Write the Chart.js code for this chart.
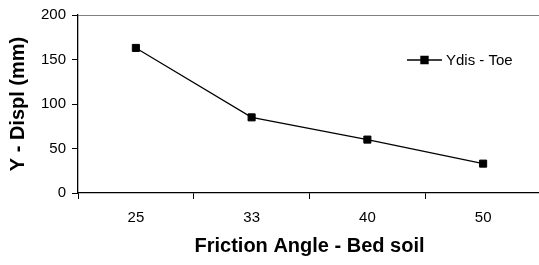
<!DOCTYPE html>
<html>
<head>
<meta charset="utf-8">
<script src="https://cdn.jsdelivr.net/npm/chart.js@4/dist/chart.umd.min.js"></script>
<style>
  html, body { margin: 0; padding: 0; background: #fff; overflow: hidden; }
  #wrap { width: 547px; height: 265px; }
</style>
</head>
<body>
<div id="wrap"><canvas id="grafico"></canvas></div>
<script>
// dados
const angulos = ["25", "33", "40", "50"];
const ydisToe = [163, 85, 60, 33];
const yTicks = [0, 50, 100, 150, 200];

const fonte = "Arial, 'Liberation Sans', sans-serif";

// moldura superior + legenda dentro da área do gráfico
const extras = {
    id: "extras",
    afterDraw(chart) {
        const ctx = chart.ctx;
        const area = chart.chartArea;
        ctx.save();
        ctx.strokeStyle = "#808080";
        ctx.lineWidth = 1;
        ctx.beginPath();
        ctx.moveTo(area.left, area.top + 0.5);
        ctx.lineTo(area.right, area.top + 0.5);
        ctx.stroke();

        const ds = chart.data.datasets[0];
        const lx = 407, ly = 60;
        ctx.strokeStyle = "#000";
        ctx.lineWidth = 1.3;
        ctx.beginPath();
        ctx.moveTo(lx, ly);
        ctx.lineTo(lx + 35, ly);
        ctx.stroke();
        ctx.fillStyle = "#000";
        Chart.helpers.drawPoint(ctx, { pointStyle: "rect", radius: 5, borderWidth: 1 }, lx + 17.5, ly);
        ctx.font = "15px " + fonte;
        ctx.textBaseline = "middle";
        ctx.textAlign = "left";
        ctx.fillText(ds.label, lx + 39, ly + 1);
        ctx.restore();
    }
};

new Chart(document.getElementById("grafico"), {
    type: "line",
    data: {
        labels: angulos,
        datasets: [{
            label: "Ydis - Toe",
            data: ydisToe,
            borderColor: "#000",
            backgroundColor: "#000",
            borderWidth: 1.2,
            pointStyle: "rect",
            pointRadius: 5,
            pointBorderWidth: 1,
            tension: 0,
            fill: false
        }]
    },
    options: {
        responsive: true,
        maintainAspectRatio: false,
        animation: false,
        layout: { padding: { left: 0, top: 15, right: 0, bottom: 0 } },
        plugins: {
            legend: { display: false },
            tooltip: { enabled: false }
        },
        scales: {
            x: {
                offset: true,
                grid: { display: true, offset: true, drawOnChartArea: false, tickLength: 6, color: "#000" },
                border: { color: "#000", width: 1.3 },
                ticks: { color: "#000", font: { family: fonte, size: 15 }, padding: 10 },
                title: {
                    display: true,
                    text: "Friction Angle - Bed soil",
                    color: "#000",
                    font: { family: fonte, size: 20, weight: "bold" },
                    padding: { top: 4, bottom: 7 }
                },
                afterFit(scale) { scale.height = 72; }
            },
            y: {
                min: 0,
                max: 200,
                afterBuildTicks(scale) { scale.ticks = yTicks.map(v => ({ value: v })); },
                grid: { display: true, drawOnChartArea: false, tickLength: 6, color: "#000" },
                border: { color: "#000", width: 1.3 },
                ticks: { color: "#000", font: { family: fonte, size: 15 }, padding: 6 },
                title: {
                    display: true,
                    text: "Y - Displ (mm)",
                    color: "#000",
                    font: { family: fonte, size: 20, weight: "bold" },
                    padding: { top: 6, bottom: 2 }
                },
                afterFit(scale) { scale.width = 78; }
            }
        }
    },
    plugins: [extras]
});
</script>
</body>
</html>
